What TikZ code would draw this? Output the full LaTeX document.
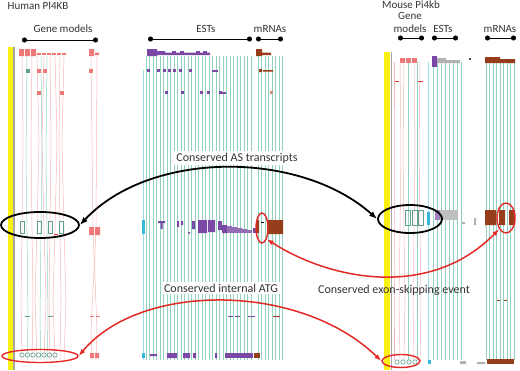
\documentclass[tikz,border=0pt]{standalone}
\usepackage{fontspec}
\setmainfont{Carlito}
\usetikzlibrary{arrows.meta, shapes.geometric}

\definecolor{chromyellow}{RGB}{250,240,20}
\definecolor{genepink}{RGB}{238,120,120}
\definecolor{trackgreen}{RGB}{120,198,178}
\definecolor{estpurple}{RGB}{122,72,165}
\definecolor{mrnabrown}{RGB}{150,62,28}
\definecolor{cdsaqua}{RGB}{55,185,220}
\definecolor{linkred}{RGB}{228,42,38}

\begin{document}
\begin{tikzpicture}[
    x=1pt, y=-1pt,
    every node/.style={font=\fontsize{11}{13}\selectfont, text=black!80},
    track/.style={line width=0.5pt},
    pinktrack/.style={track, genepink!55},
    greentrack/.style={track, trackgreen!80},
    outlined/.style={draw=trackgreen!80!black, line width=0.6pt},
    bracket/.style={{Circle[length=5pt]}-{Circle[length=5pt]}, line width=1pt},
    blackring/.style={ellipse, draw=black, line width=1.8pt, inner sep=0pt},
    redring/.style={ellipse, draw=linkred, line width=1.4pt, inner sep=0pt},
    blacklink/.style={{Latex[length=8pt,width=6pt]}-{Latex[length=8pt,width=6pt]}, line width=1.8pt},
    redlink/.style={{Latex[length=7pt,width=5pt]}-{Latex[length=7pt,width=5pt]}, line width=1.5pt, linkred},
    label/.style={fill=white, inner sep=2pt, font=\fontsize{12}{14}\selectfont},
]
\useasboundingbox (0,0) rectangle (520,370);

% Titles and column brackets
\node (human) at (38,6) {Human PI4KB};
\node (mouse) at (411,5) {Mouse Pi4kb};
\node (hgenes) at (63,29) {Gene models};
\node (hests) at (206,29) {ESTs};
\node (hmrnas) at (270,29) {mRNAs};
\node (mgenes) at (410,22) [align=center] {Gene\\models};
\node (mests) at (443,29) {ESTs};
\node (mmrnas) at (500,29) {mRNAs};
\draw[bracket] (22,40) -- (98,40);
\draw[bracket] (148,39) -- (252,39);
\draw[bracket] (256,39) -- (283,39);
\draw[bracket] (398,38) -- (424,38);
\draw[bracket] (432,38) -- (458,38);
\draw[bracket] (485,38) -- (516,38);

% Chromosome bars
\fill[chromyellow] (8,47) rectangle (13,370);
\draw[gray!70, line width=1.2pt] (14,47) -- (14,370);
\fill[chromyellow] (384,52) rectangle (390,370);
\draw[gray!70, line width=1.2pt] (391.5,52) -- (391.5,370);

% Human tracks
\foreach \x/\d in {22/1, 32/-1, 37/2, 44/-2, 50/1, 55/2, 60/-1, 64/-2}
  \draw[pinktrack] (\x,56) -- (\x+\d,140) -- (\x,230) -- (\x-\d,300) -- (\x,360);
\foreach \x/\d in {27/1, 41/-1, 47/1}
  \draw[greentrack] (\x,56) -- (\x-\d,160) -- (\x,230) -- (\x+\d,320) -- (\x,360);
\draw[pinktrack] (91,56) -- (93,230) -- (97,330) -- (96,360);
\draw[pinktrack] (97,56) -- (96,230) -- (91,330) -- (92,360);
\draw[track, cdsaqua!50] (143,70) -- (143,360);
\foreach \x in {146,149.5,...,251}
  \draw[greentrack] (\x,56) -- (\x,360);
\foreach \x in {258,261.5,...,285}
  \draw[greentrack] (\x,56) -- (\x,360);

% Mouse tracks
\foreach \x/\d in {394/0, 400/1, 404/-1, 414/1, 420/-1}
  \draw[pinktrack] (\x,62) -- (\x+\d,150) -- (\x,230) -- (\x-\d,300) -- (\x,360);
\foreach \x in {408,417}
  \draw[greentrack] (\x,62) -- (\x,360);
\draw[track, cdsaqua!50] (428,62) -- (428,360);
\foreach \x in {433,437,...,461}
  \draw[greentrack] (\x,62) -- (\x,360);
\foreach \x in {486,489.5,...,516}
  \draw[greentrack] (\x,62) -- (\x,360);

% Human exons, top rows
\fill[genepink] (19,49) rectangle (24,56) (25,49) rectangle (30,56) (31,49) rectangle (36,56);
\foreach \x in {37,42,47,52,57,62}
  \fill[genepink] (\x,52.5) rectangle (\x+4,55);
\fill[genepink] (89,49) rectangle (94,56) (95,52.5) rectangle (99,55);
\fill[estpurple] (147,49) rectangle (157,56) (157,51) rectangle (165,55) (165,52.5) rectangle (210,55);
\foreach \x in {172,180,196,203}
  \fill[estpurple] (\x,51) rectangle (\x+4,53);
\fill[mrnabrown] (256,49) rectangle (262,56) (262,52.5) rectangle (271,55);
\fill[trackgreen!80!black] (26,69) rectangle (30,73);
\foreach \x in {37,43,89}
  \fill[genepink] (\x,69) rectangle (\x+4,73);
\foreach \x in {147,157,163,168,173,179,189}
  \fill[estpurple] (\x,69) rectangle (\x+3,72);
\fill[estpurple] (212,70) rectangle (218,72);
\fill[mrnabrown] (259,69) rectangle (262,72) (263,70) rectangle (273,71.5);
\foreach \x in {37,60}
  \fill[genepink] (\x,91) rectangle (\x+4,95);
\foreach \x in {165,181,200,207,219}
  \fill[estpurple] (\x,91) rectangle (\x+3,94);
\fill[estpurple] (222,92) rectangle (226,94);
\fill[mrnabrown!60] (270,91) rectangle (273,94);

% Mouse exons, top rows
\foreach \x in {400,406,412}
  \fill[genepink] (\x,58) rectangle (\x+5,63);
\fill[estpurple] (432,56) rectangle (437,67);
\fill[gray!60] (437,58) rectangle (446,63) (446,60) rectangle (460,63);
\fill[black!70] (469,58) rectangle (471,60);
\fill[mrnabrown] (485,57) rectangle (500,63) (500,59) rectangle (515,63);
\draw[linkred, line width=0.8pt] (395,81) -- (399,81) (418,81) -- (423,81);

% Human exons, middle row
\foreach \x in {20,37,48,59}
  \draw[outlined] (\x,221) rectangle (\x+4,233);
\draw[linkred, line width=0.8pt] (54,234) -- (58,234);
\fill[genepink] (89,227) rectangle (94,235) (95,227) rectangle (100,235);
\fill[cdsaqua] (142,220) rectangle (145,234);
\fill[estpurple] (158,221) rectangle (165,223) (160.5,221) rectangle (162.5,229);
\fill[estpurple] (177,221) rectangle (179,227) (181,221) rectangle (183,225) (188,232) rectangle (190,233.5);
\fill[estpurple] (192,221) rectangle (195,229) (198,220) rectangle (207,233) (208,220) rectangle (215,232);
\fill[estpurple] (218,221) rectangle (222,230) (222,225) rectangle (227,233);
\foreach \x/\h in {227/226, 232/227, 237/228, 242/229, 247/230}
  \fill[estpurple!80] (\x,\h) rectangle (\x+5,233);
\fill[estpurple] (253,228) rectangle (256,233);
\fill[mrnabrown] (256,220) rectangle (259,233) (267,220) rectangle (283,234);
\draw[black, line width=0.5pt] (261,222) -- (264,222);

% Mouse exons, middle row
\foreach \x in {405,412,418}
  \draw[outlined] (\x,210) rectangle (\x+5,225);
\fill[cdsaqua] (427,212) rectangle (430,225);
\fill[estpurple!70] (435,210) rectangle (440,220);
\fill[gray!50] (440,210) rectangle (458,220);
\fill[gray!60] (462,222) rectangle (465,224) (474,218) rectangle (476,225);
\fill[mrnabrown] (485,210) rectangle (496,225) (499,210) rectangle (505,225) (509,210) rectangle (515,225);

% Small marks, lower rows
\draw[trackgreen!80!black, line width=0.8pt] (25,316) -- (30,316) (48,316) -- (53,316);
\draw[genepink, line width=0.8pt] (90,316) -- (94,316) (96,316) -- (100,316);
\draw[estpurple, line width=0.8pt] (228,316) -- (233,316) (235,316) -- (240,316) (248,316) -- (255,316);
\draw[mrnabrown, line width=0.8pt] (273,316) -- (280,316) (497,300) -- (500,300) (504,300) -- (507,300);

% Bottom row
\foreach \x in {22,27.5,33,38.5,44,49.5,55}
  \draw[outlined] (\x,355) circle (2.2);
\fill[genepink] (90,353) rectangle (94,358) (95,353) rectangle (99,358);
\fill[cdsaqua] (142,353) rectangle (145,358);
\fill[estpurple] (150,354) rectangle (157,356) (167,353) rectangle (177,358) (183,353) rectangle (190,358) (193,353) rectangle (196,358) (215,353) rectangle (217,358);
\fill[estpurple] (225,353) rectangle (253,358);
\fill[mrnabrown] (254,353) rectangle (260,358);
\foreach \x in {397,403,409,415}
  \draw[outlined] (\x,362) circle (2.2);
\fill[cdsaqua] (428,360) rectangle (431,364);
\fill[gray!60] (460,361) rectangle (466,364) (477,362) rectangle (485,364);
\fill[mrnabrown] (487,359) rectangle (514,364);

% Highlight rings
\node[blackring, minimum width=78, minimum height=26] (humanAS) at (40,225) {};
\node[blackring, minimum width=64, minimum height=28] (mouseAS) at (410,219) {};
\node[redring, minimum width=12, minimum height=30] (humanSkip) at (262,228) {};
\node[redring, minimum width=18, minimum height=30] (mouseSkip) at (506,218) {};
\node[redring, minimum width=76, minimum height=13] (humanATG) at (40,356) {};
\node[redring, minimum width=38, minimum height=13] (mouseATG) at (401,361) {};

% Labels
\node[label] (astext) at (237,158) {Conserved AS transcripts};
\node[label] (atgtext) at (221,288) {Conserved internal ATG};
\node[font=\fontsize{12}{14}\selectfont] (skiptext) at (394,290) {Conserved exon-skipping event};

% Links
\draw[blacklink] (humanAS.east) .. controls (150,150) and (300,150) .. (mouseAS.west);
\draw[redlink] (humanSkip.south east) .. controls (330,280) and (430,300) .. (mouseSkip.south west);
\draw[redlink] (humanATG.east) .. controls (140,282) and (300,282) .. (mouseATG.west);

\end{tikzpicture}
\end{document}
